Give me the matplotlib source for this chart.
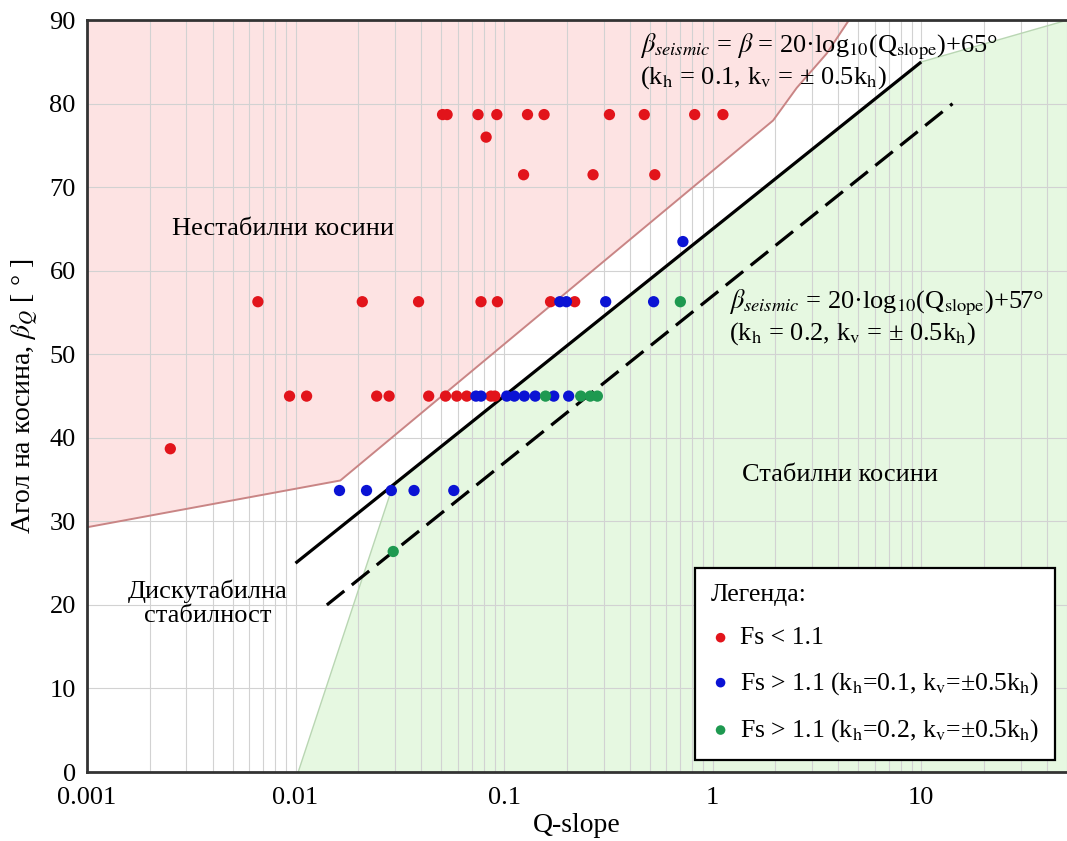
import matplotlib
matplotlib.use("Agg")
import matplotlib.pyplot as plt
from matplotlib.ticker import FixedLocator, NullFormatter
import numpy as np

plt.rcParams["font.family"] = ["Liberation Serif", "DejaVu Serif"]
plt.rcParams["mathtext.fontset"] = "stix"

# ---- data -------------------------------------------------------------
# Fs < 1.1
red_q = [0.0507, 0.0533, 0.075, 0.0923, 0.1295, 0.1555, 0.32, 0.47, 0.82, 1.12,
         0.082,
         0.124, 0.267, 0.528,
         0.0066, 0.0209, 0.0389, 0.0775, 0.0929, 0.167, 0.218,
         0.00936, 0.0113, 0.0245, 0.0281, 0.0435, 0.0524, 0.0593, 0.0662, 0.0865, 0.0903,
         0.00251]
red_beta = [78.7] * 10 + [76.0] + [71.5] * 3 + [56.3] * 7 + [45.0] * 10 + [38.7]

# Fs > 1.1 (kh = 0.1)
blue_q = [0.72,
          0.185, 0.199, 0.307, 0.521,
          0.0733, 0.0775, 0.103, 0.112, 0.125, 0.141, 0.173, 0.204,
          0.01625, 0.0219, 0.0288, 0.0370, 0.0574]
blue_beta = [63.5] + [56.3] * 4 + [45.0] * 8 + [33.7] * 5

# Fs > 1.1 (kh = 0.2)
green_q = [0.70, 0.158, 0.233, 0.259, 0.280, 0.0294]
green_beta = [56.3, 45.0, 45.0, 45.0, 45.0, 26.4]

# stability zone boundaries
unstable_q = [0.001, 0.0164, 1.95, 2.53, 3.52, 4.5, 0.001]
unstable_beta = [29.3, 34.9, 78.0, 81.9, 86.0, 90.0, 90.0]
stable_q = [0.0103, 0.0294, 10.0, 50.0, 50.0]
stable_beta = [0.0, 34.4, 85.0, 90.0, 0.0]

# design lines: beta = 20*log10(Q) + const
line1_const, line1_q = 65.0, [0.01, 10.0]
line2_const, line2_q = 57.0, [0.01413, 14.13]

x_ticks = [0.001, 0.01, 0.1, 1, 10]
x_ticklabels = ["0.001", "0.01", "0.1", "1", "10"]
y_ticks = list(range(0, 91, 10))

# ---- figure -----------------------------------------------------------
fig = plt.figure(figsize=(10.67, 8.41), dpi=100)
ax = fig.add_axes([0.0815, 0.082, 0.9185, 0.894])
ax.set_xscale("log")
ax.set_xlim(0.001, 50)
ax.set_ylim(0, 90)

ax.fill(unstable_q, unstable_beta, facecolor="#fde3e3", edgecolor="none", zorder=0.1)
ax.plot(unstable_q[:6], unstable_beta[:6], color="#c98585", lw=1.4, zorder=1)
ax.fill(stable_q, stable_beta, facecolor="#e6f8e1", edgecolor="none", zorder=0.1)
ax.plot(stable_q[:2], stable_beta[:2], color="#b9d6b3", lw=1.0, zorder=1)
ax.plot(stable_q[2:4], stable_beta[2:4], color="#b9d6b3", lw=1.0, zorder=1)

q1 = np.array(line1_q)
ax.plot(q1, 20 * np.log10(q1) + line1_const, color="black", lw=2.3,
        solid_capstyle="butt", zorder=2)
q2 = np.array(line2_q)
ax.plot(q2, 20 * np.log10(q2) + line2_const, color="black", lw=2.3,
        dashes=(7, 3), zorder=2)

ms = 66
ax.scatter(red_q, red_beta, s=ms, color="#e2141b", edgecolors="none", zorder=3,
           label="Fs < 1.1")
ax.scatter(blue_q, blue_beta, s=ms, color="#0b13d4", edgecolors="none", zorder=3,
           label=r"Fs > 1.1 (k$_{\mathrm{h}}$=0.1, k$_{\mathrm{v}}$=±0.5k$_{\mathrm{h}}$)")
ax.scatter(green_q, green_beta, s=ms, color="#1e9950", edgecolors="none", zorder=3,
           label=r"Fs > 1.1 (k$_{\mathrm{h}}$=0.2, k$_{\mathrm{v}}$=±0.5k$_{\mathrm{h}}$)")

# axes styling
ax.xaxis.set_major_locator(FixedLocator(x_ticks))
ax.set_xticklabels(x_ticklabels)
ax.xaxis.set_minor_locator(FixedLocator(
    [m * 10.0 ** e for e in range(-3, 2) for m in range(2, 10)]))
ax.xaxis.set_minor_formatter(NullFormatter())
ax.set_yticks(y_ticks)
ax.set_axisbelow(True)
ax.grid(which="both", color="#d2d2d2", lw=0.8)
ax.tick_params(which="both", length=0, labelsize=19, colors="black")
ax.tick_params(axis="y", pad=8)
ax.tick_params(axis="x", pad=11)
for s in ("left", "bottom", "top"):
    ax.spines[s].set_color("#333333")
    ax.spines[s].set_linewidth(2.0)
ax.spines["right"].set_visible(False)

ax.set_xlabel("Q-slope", fontsize=20, labelpad=3)
ax.set_ylabel(r"Агол на косина, $\beta_Q$ [ ° ]", fontsize=20, labelpad=6)

# zone labels
ax.text(0.0087, 65.0, "Нестабилни косини", fontsize=19, ha="center", va="center")
ax.text(0.0038, 20.2, "Дискутабилна\nстабилност", fontsize=19, ha="center",
        va="center", linespacing=1.15)
ax.text(4.07, 35.5, "Стабилни косини", fontsize=19, ha="center", va="center")

# equations
ax.text(0.45, 88.6,
        r"$\beta_{seismic}$ = $\beta$ = 20·log$_{10}$(Q$_{\mathrm{slope}}$)+65°"
        "\n" r"(k$_{\mathrm{h}}$ = 0.1, k$_{\mathrm{v}}$ = ± 0.5k$_{\mathrm{h}}$)",
        fontsize=19, ha="left", va="top", linespacing=1.1)
ax.text(1.2, 58.0,
        r"$\beta_{seismic}$ = 20·log$_{10}$(Q$_{\mathrm{slope}}$)+57°"
        "\n" r"(k$_{\mathrm{h}}$ = 0.2, k$_{\mathrm{v}}$ = ± 0.5k$_{\mathrm{h}}$)",
        fontsize=19, ha="left", va="top", linespacing=1.1)

leg = ax.legend(loc="lower right", bbox_to_anchor=(1.003, -0.004), title="Легенда:",
                alignment="left", fontsize=18.5, title_fontsize=18.5, frameon=True,
                fancybox=False, framealpha=1, edgecolor="black", markerscale=0.85,
                handletextpad=0.35, handlelength=0.8, labelspacing=0.8,
                borderpad=0.6, borderaxespad=0.6)
leg.get_frame().set_linewidth(1.6)

fig.savefig("out.png", dpi=100)
